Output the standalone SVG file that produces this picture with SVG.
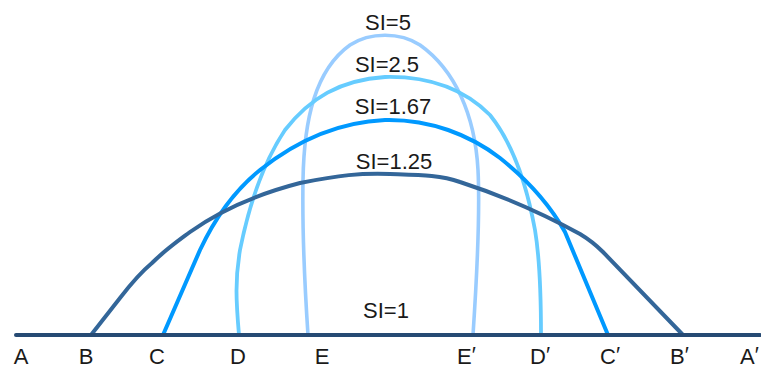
<svg xmlns="http://www.w3.org/2000/svg" width="761" height="369" viewBox="0 0 761 369">
<style>
  .c { fill: none; stroke-linecap: round; stroke-linejoin: round; }
  .t { font-family: "Liberation Sans", Arial, sans-serif; font-size: 22px; fill: #1a1a1a; }
  .m { text-anchor: middle; }
</style>
<rect width="761" height="369" fill="#ffffff"/>
<g id="connectors">
  <path id="si5" class="c" stroke="#99ccff" stroke-width="3.6" d="M308,335 C305,290 302,240 303,180 C304,120 315,70 350,45 C370,32 400,32 420,45 C455,70 475,115 478,170 C480,210 478,260 473,335"/>
  <path id="si25" class="c" stroke="#66ccff" stroke-width="3.8" d="M239,335 C236,300 235,280 240,250 C250,200 265,160 285,130 C310,98 340,80 385,77 C430,76 465,90 490,115 C510,140 525,175 535,230 C540,260 541,290 541,335"/>
  <path id="si167" class="c" stroke="#0099ff" stroke-width="4" d="M163,335 L200,250 C215,218 235,190 260,170 C300,138 340,122 385,120 C430,119 470,135 500,158 C530,182 550,205 565,232 L608,335"/>
  <path id="si125" class="c" stroke="#336699" stroke-width="4" d="M91,335 L120,298 C130,285 140,273 152,263 C165,250 178,241 190,232 C215,214 250,196 300,183 C340,175 360,173 390,174 C420,175 440,175 460,182 C500,195 540,212 580,234 C590,240 598,247 603,252 L683,335"/>
  <path id="si1" class="c" stroke="#264a73" stroke-width="4" d="M16,335 L760,335"/>
</g>
<g id="labels">
  <text class="t m" x="388" y="30">SI=5</text>
  <text class="t m" x="387" y="72">SI=2.5</text>
  <text class="t m" x="393" y="114">SI=1.67</text>
  <text class="t m" x="394" y="169">SI=1.25</text>
  <text class="t m" x="386" y="318">SI=1</text>
</g>
<g id="points">
  <text class="t m" x="21" y="364">A</text>
  <text class="t m" x="86" y="364">B</text>
  <text class="t m" x="157" y="364">C</text>
  <text class="t m" x="238" y="364">D</text>
  <text class="t m" x="322" y="364">E</text>
  <text class="t" x="457" y="364">E<tspan dy="-2">′</tspan></text>
  <text class="t" x="530" y="364">D<tspan dy="-2">′</tspan></text>
  <text class="t" x="600" y="364">C<tspan dy="-2">′</tspan></text>
  <text class="t" x="670" y="364">B<tspan dy="-2">′</tspan></text>
  <text class="t" x="740" y="364">A<tspan dy="-2">′</tspan></text>
</g>
</svg>
